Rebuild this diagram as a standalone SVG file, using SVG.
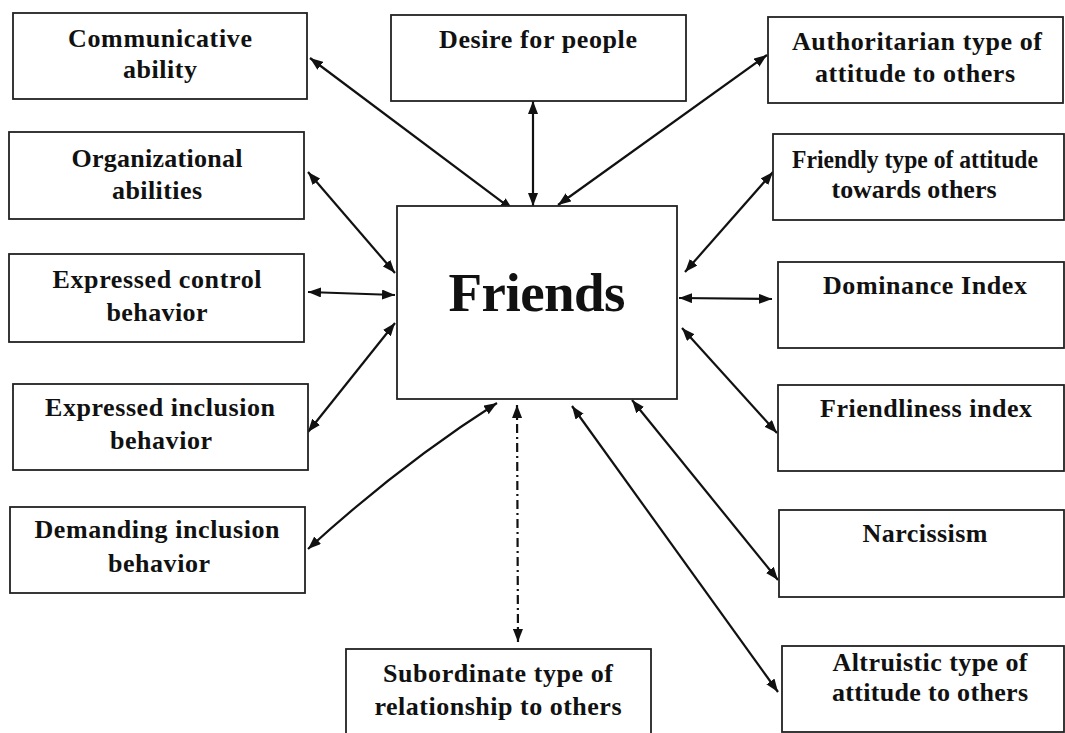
<svg xmlns="http://www.w3.org/2000/svg" width="1065" height="733" viewBox="0 0 1065 733">
<style>
.box{fill:#fff;stroke:#222;stroke-width:1.8}
.t{font-family:"Liberation Serif","Times New Roman",serif;font-weight:bold;font-size:26px;fill:#111;text-anchor:middle}
.big{font-size:55px}
.c{fill:none;stroke:#111;stroke-width:2.2}
.dd{stroke-dasharray:9 4 2 4}
</style>
<defs>
<marker id="ah" viewBox="0 0 13 10" refX="13" refY="5" markerWidth="13" markerHeight="10" markerUnits="userSpaceOnUse" orient="auto-start-reverse">
<path d="M0,0 L13,5 L0,10 z" fill="#111"/>
</marker>
</defs>
<rect width="1065" height="733" fill="#fff"/>
<g id="connectors">
<line class="c" x1="310" y1="58" x2="513" y2="210" marker-start="url(#ah)" marker-end="url(#ah)"/>
<line class="c" x1="533" y1="101" x2="533" y2="206" marker-start="url(#ah)" marker-end="url(#ah)"/>
<line class="c" x1="767" y1="55" x2="558" y2="205" marker-start="url(#ah)" marker-end="url(#ah)"/>
<line class="c" x1="308" y1="172" x2="395" y2="273" marker-start="url(#ah)" marker-end="url(#ah)"/>
<line class="c" x1="308" y1="292" x2="395" y2="295" marker-start="url(#ah)" marker-end="url(#ah)"/>
<line class="c" x1="395" y1="323" x2="308" y2="432" marker-start="url(#ah)" marker-end="url(#ah)"/>
<path class="c" d="M497,403 Q401,464 308,549" marker-start="url(#ah)" marker-end="url(#ah)"/>
<line class="c dd" x1="517" y1="405" x2="518" y2="642" marker-start="url(#ah)" marker-end="url(#ah)"/>
<line class="c" x1="773" y1="172" x2="685" y2="272" marker-start="url(#ah)" marker-end="url(#ah)"/>
<line class="c" x1="679" y1="298" x2="772" y2="299" marker-start="url(#ah)" marker-end="url(#ah)"/>
<line class="c" x1="682" y1="328" x2="777" y2="433" marker-start="url(#ah)" marker-end="url(#ah)"/>
<line class="c" x1="632" y1="400" x2="778" y2="580" marker-start="url(#ah)" marker-end="url(#ah)"/>
<line class="c" x1="572" y1="406" x2="778" y2="692" marker-start="url(#ah)" marker-end="url(#ah)"/>
</g>
<g id="center">
<rect class="box" x="397" y="206" width="280" height="193"/>
<text class="t big" x="537" y="311" textLength="177" lengthAdjust="spacing">Friends</text>
</g>
<g id="n1">
<rect class="box" x="13" y="13" width="294" height="86"/>
<text class="t" x="160" y="47" textLength="184" lengthAdjust="spacing">Communicative</text>
<text class="t" x="160" y="78" textLength="74" lengthAdjust="spacing">ability</text>
</g>
<g id="n2">
<rect class="box" x="9" y="132" width="295" height="87"/>
<text class="t" x="157" y="167" textLength="171" lengthAdjust="spacing">Organizational</text>
<text class="t" x="157" y="199" textLength="90" lengthAdjust="spacing">abilities</text>
</g>
<g id="n3">
<rect class="box" x="9" y="254" width="295" height="88"/>
<text class="t" x="157" y="288" textLength="209" lengthAdjust="spacing">Expressed control</text>
<text class="t" x="157" y="321" textLength="101" lengthAdjust="spacing">behavior</text>
</g>
<g id="n4">
<rect class="box" x="13" y="384" width="295" height="86"/>
<text class="t" x="160" y="416" textLength="230" lengthAdjust="spacing">Expressed inclusion</text>
<text class="t" x="161" y="449" textLength="102" lengthAdjust="spacing">behavior</text>
</g>
<g id="n5">
<rect class="box" x="10" y="507" width="295" height="86"/>
<text class="t" x="157" y="538" textLength="245" lengthAdjust="spacing">Demanding inclusion</text>
<text class="t" x="159" y="572" textLength="102" lengthAdjust="spacing">behavior</text>
</g>
<g id="n6">
<rect class="box" x="391" y="15" width="295" height="86"/>
<text class="t" x="538" y="48" textLength="198" lengthAdjust="spacing">Desire for people</text>
</g>
<g id="n7">
<rect class="box" x="768" y="17" width="295" height="86"/>
<text class="t" x="917" y="50" textLength="250" lengthAdjust="spacing">Authoritarian type of</text>
<text class="t" x="915" y="82" textLength="200" lengthAdjust="spacing">attitude to others</text>
</g>
<g id="n8">
<rect class="box" x="773" y="134" width="291" height="86"/>
<text class="t" x="915" y="168" textLength="246" lengthAdjust="spacingAndGlyphs">Friendly type of attitude</text>
<text class="t" x="914" y="198" textLength="165" lengthAdjust="spacingAndGlyphs">towards others</text>
</g>
<g id="n9">
<rect class="box" x="778" y="262" width="286" height="86"/>
<text class="t" x="925" y="294" textLength="204" lengthAdjust="spacing">Dominance Index</text>
</g>
<g id="n10">
<rect class="box" x="778" y="385" width="286" height="86"/>
<text class="t" x="926" y="417" textLength="212" lengthAdjust="spacing">Friendliness index</text>
</g>
<g id="n11">
<rect class="box" x="779" y="510" width="285" height="87"/>
<text class="t" x="925" y="542" textLength="125" lengthAdjust="spacing">Narcissism</text>
</g>
<g id="n12">
<rect class="box" x="782" y="646" width="282" height="86"/>
<text class="t" x="930" y="671" textLength="195" lengthAdjust="spacing">Altruistic type of</text>
<text class="t" x="930" y="701" textLength="196" lengthAdjust="spacing">attitude to others</text>
</g>
<g id="n13">
<rect class="box" x="346" y="649" width="305" height="90"/>
<text class="t" x="498" y="682" textLength="230" lengthAdjust="spacing">Subordinate type of</text>
<text class="t" x="498" y="715" textLength="247" lengthAdjust="spacing">relationship to others</text>
</g>
</svg>
